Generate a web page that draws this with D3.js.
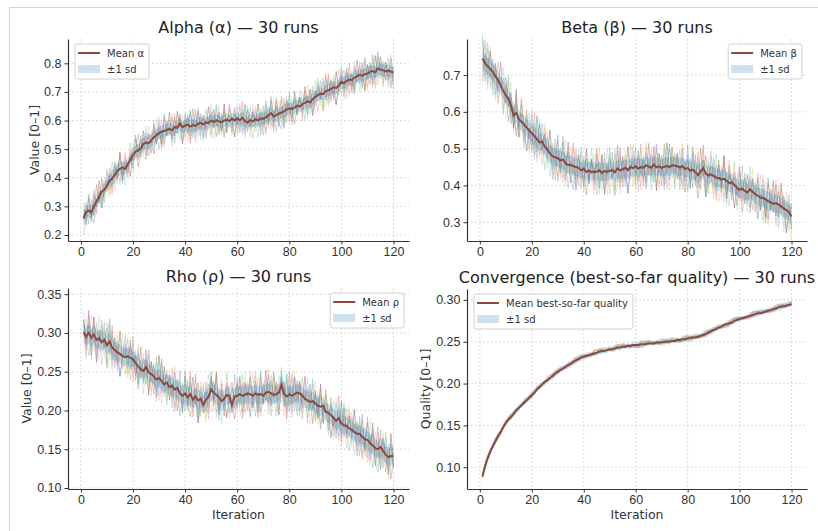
<!DOCTYPE html>
<html>
<head>
<meta charset="utf-8">
<script src="https://cdn.jsdelivr.net/npm/d3@7"></script>
<style>
  body { margin: 0; background: #fff; }
  svg { font-family: "DejaVu Sans", sans-serif; }
  .tick text { fill: #333; font-size: 12.5px; }
  .tick line { stroke: #333; }
  .domain { stroke: #333; stroke-width: 1.2; }
</style>
</head>
<body>
<svg id="chart" width="818" height="531"></svg>
<script>
// iterations 1..120 and tick labels
const iterations = d3.range(1, 121);
const xTicks = [0, 20, 40, 60, 80, 100, 120];

// mean of 30 runs
const alphaMean = [
  0.258,0.281,0.285,0.279,0.300,0.318,0.333,0.352,0.358,0.372,
  0.389,0.398,0.410,0.424,0.431,0.436,0.430,0.447,0.463,0.480,
  0.491,0.496,0.503,0.519,0.523,0.521,0.530,0.541,0.549,0.556,
  0.561,0.564,0.567,0.571,0.566,0.578,0.575,0.590,0.577,0.582,
  0.586,0.579,0.584,0.581,0.589,0.592,0.586,0.594,0.591,0.600,
  0.595,0.601,0.597,0.594,0.600,0.603,0.598,0.606,0.601,0.607,
  0.602,0.609,0.598,0.593,0.601,0.597,0.605,0.600,0.608,0.606,
  0.611,0.618,0.626,0.614,0.619,0.624,0.628,0.633,0.639,0.642,
  0.641,0.645,0.652,0.649,0.657,0.662,0.667,0.664,0.675,0.683,
  0.689,0.694,0.692,0.703,0.706,0.711,0.716,0.714,0.722,0.735,
  0.731,0.738,0.743,0.741,0.750,0.754,0.760,0.757,0.762,0.764,
  0.770,0.773,0.769,0.782,0.778,0.776,0.772,0.775,0.771,0.768
];
const betaMean = [
  0.745,0.732,0.724,0.716,0.709,0.697,0.686,0.672,0.657,0.645,
  0.636,0.617,0.590,0.597,0.580,0.573,0.566,0.557,0.549,0.542,
  0.534,0.526,0.517,0.519,0.506,0.497,0.487,0.479,0.477,0.474,
  0.468,0.470,0.461,0.455,0.456,0.452,0.450,0.448,0.441,0.445,
  0.437,0.440,0.436,0.438,0.437,0.441,0.434,0.439,0.437,0.440,
  0.442,0.436,0.446,0.441,0.444,0.448,0.442,0.450,0.447,0.452,
  0.446,0.450,0.448,0.455,0.451,0.448,0.457,0.449,0.452,0.447,
  0.451,0.453,0.450,0.455,0.454,0.452,0.449,0.452,0.445,0.447,
  0.440,0.443,0.436,0.428,0.438,0.447,0.432,0.427,0.430,0.426,
  0.421,0.420,0.416,0.418,0.413,0.406,0.409,0.401,0.394,0.388,
  0.391,0.385,0.381,0.389,0.383,0.377,0.372,0.367,0.366,0.362,
  0.357,0.354,0.350,0.352,0.348,0.343,0.337,0.334,0.327,0.316
];
const rhoMean = [
  0.301,0.295,0.300,0.294,0.298,0.291,0.293,0.288,0.291,0.284,
  0.289,0.281,0.278,0.275,0.273,0.270,0.269,0.270,0.268,0.266,
  0.261,0.257,0.253,0.251,0.256,0.249,0.247,0.244,0.240,0.242,
  0.238,0.234,0.236,0.230,0.232,0.227,0.229,0.222,0.219,0.222,
  0.217,0.221,0.214,0.218,0.213,0.215,0.207,0.214,0.218,0.227,
  0.223,0.220,0.217,0.212,0.215,0.220,0.219,0.207,0.218,0.219,
  0.221,0.219,0.220,0.222,0.221,0.219,0.222,0.220,0.221,0.219,
  0.223,0.224,0.222,0.220,0.221,0.223,0.233,0.221,0.218,0.221,
  0.219,0.221,0.223,0.222,0.219,0.215,0.213,0.211,0.212,0.209,
  0.206,0.205,0.206,0.198,0.197,0.194,0.190,0.187,0.190,0.183,
  0.181,0.180,0.177,0.175,0.172,0.170,0.170,0.166,0.163,0.162,
  0.158,0.155,0.151,0.150,0.153,0.148,0.143,0.140,0.141,0.142
];
const qualityMean = [
  0.089,0.101,0.111,0.119,0.125,0.131,0.137,0.142,0.148,0.153,
  0.157,0.160,0.164,0.168,0.171,0.174,0.177,0.180,0.183,0.186,
  0.189,0.193,0.196,0.199,0.202,0.204,0.207,0.209,0.212,0.214,
  0.216,0.218,0.220,0.222,0.224,0.226,0.228,0.229,0.231,0.232,
  0.233,0.234,0.235,0.236,0.237,0.238,0.239,0.239,0.240,0.241,
  0.241,0.242,0.243,0.243,0.244,0.244,0.245,0.245,0.246,0.246,
  0.246,0.247,0.247,0.247,0.248,0.248,0.248,0.249,0.249,0.249,
  0.250,0.250,0.250,0.251,0.251,0.252,0.252,0.253,0.253,0.254,
  0.254,0.255,0.255,0.256,0.257,0.258,0.259,0.261,0.262,0.264,
  0.265,0.267,0.268,0.270,0.271,0.272,0.273,0.275,0.276,0.277,
  0.278,0.279,0.280,0.281,0.282,0.283,0.284,0.284,0.285,0.286,
  0.287,0.288,0.289,0.290,0.291,0.292,0.292,0.293,0.294,0.295
];

// approximate standard deviation and spread of single runs
const alphaSd = 0.022, betaSd = 0.025, rhoSd = 0.012, qualitySd = 0.0025;
const alphaSpread = 0.058, betaSpread = 0.063, rhoSpread = 0.029, qualitySpread = 0.004;

// hand-estimated run deviations (digit 0..9 = -1..+1 of spread)
const runNoise = [
  "4718293056 6283917405 3928174650 5173829406 2849371560 7362918405 4192837560 6381920475 2937461805 5819273046 3746192805 6192837450",
  "5293817460 3817290564 7293846150 4829173605 6174829305 3928461705 5827391604 4719283650 6283947150 3849271605 7192836450 4827391560",
  "6384920175 2947183605 5183729460 7284619305 3819274650 6293847105 4827193560 5738291640 2847391605 6173829450 4928371605 3819472650",
  "3829471605 6192738450 4738291605 5829173460 7193846250 4728391605 3847291650 6928371405 5183927460 4729381605 6837291450 5192837460",
  "7283946150 4837291605 6294817350 3729481605 5837192460 6284739150 4937281605 5283917460 7392846150 3847192605 5928371460 6183729450",
  "2938471605 5729384160 4618293750 6837291405 3928174650 7182934560 5293847160 4829371605 6738291450 3928471650 5817392460 4729381650",
  "5184729360 6829371450 3749281605 5938271460 4827193650 6392847150 3817294605 7283941650 4928371605 5738192460 6291837450 3849271605",
  "4927381650 3819274605 6283917450 4738291650 5829371460 3917284605 6482913750 5293817460 3748291605 7192384650 4829371605 5938271460"
];
// best-so-far runs: sawtooth deviations (flat stretches, then a jump)
const stepNoise = [
  "7654398765 4321076549 8765432987 6543210987 6549876543 2198765432 1098765439 8765432198 7654329876 5432109876 5432987654 3219876543",
  "5439876543 2109876598 7654321987 6543298765 4321098765 4329876543 2198765498 7654321098 7654329876 5432198765 4321098765 4329876543",
  "8765987654 3298765432 1987654398 7654321098 7654321098 7654398765 4321987654 3210987654 3219876543 2198765498 7654321987 6543219876",
  "6549876543 2987654321 0987654987 6543219876 5432198765 4321098765 4398765432 1987654321 9876543298 7654321098 7654398765 4321987654"
];

const runColors = ["#1f77b4","#ff7f0e","#2ca02c","#d62728","#9467bd","#e377c2","#17becf","#bcbd22"];
const xDomain = [-4.95, 125.95];

const panels = [
  { title: "Alpha (α) — 30 runs", mean: alphaMean, sd: alphaSd, spread: alphaSpread, noise: runNoise, shift: 0,
    legend: "Mean α", legendSide: "left", yLabel: "Value [0–1]", labelOff: 33,
    yTicks: [0.2,0.3,0.4,0.5,0.6,0.7,0.8], fmt: d3.format(".1f"), yDomain: [0.179, 0.885],
    box: { x: 68, y: 39, w: 341, h: 202 }, xLabel: false },
  { title: "Beta (β) — 30 runs", mean: betaMean, sd: betaSd, spread: betaSpread, noise: runNoise, shift: 41,
    legend: "Mean β", legendSide: "right", yLabel: null,
    yTicks: [0.3,0.4,0.5,0.6,0.7], fmt: d3.format(".1f"), yDomain: [0.249, 0.798],
    box: { x: 467, y: 39, w: 340, h: 202 }, xLabel: false },
  { title: "Rho (ρ) — 30 runs", mean: rhoMean, sd: rhoSd, spread: rhoSpread, noise: runNoise, shift: 83,
    legend: "Mean ρ", legendSide: "right", yLabel: "Value [0–1]", labelOff: 41,
    yTicks: [0.10,0.15,0.20,0.25,0.30,0.35], fmt: d3.format(".2f"), yDomain: [0.0987, 0.358],
    box: { x: 68, y: 288, w: 341, h: 201 }, xLabel: true },
  { title: "Convergence (best-so-far quality) — 30 runs", mean: qualityMean, sd: qualitySd, spread: qualitySpread, noise: stepNoise, shift: 0,
    legend: "Mean best-so-far quality", legendSide: "left", yLabel: "Quality [0–1]", labelOff: 41,
    yTicks: [0.10,0.15,0.20,0.25,0.30], fmt: d3.format(".2f"), yDomain: [0.074, 0.313],
    box: { x: 467, y: 289, w: 340, h: 200 }, xLabel: true }
];

const svg = d3.select("#chart");

// light frame of the screenshot
svg.append("rect")
  .attr("x", 9.5).attr("y", 7.5)
  .attr("width", 830).attr("height", 540)
  .attr("fill", "none").attr("stroke", "#d4d4d4");

function digits(s) {
  return s.replace(/ /g, "").split("").map(c => (+c - 4.5) / 4.5);
}

panels.forEach(p => {
  const { x: left, y: top, w, h } = p.box;
  const g = svg.append("g").attr("transform", `translate(${left},${top})`);
  const x = d3.scaleLinear().domain(xDomain).range([0, w]);
  const y = d3.scaleLinear().domain(p.yDomain).range([h, 0]);

  // dotted grid
  g.append("g").selectAll("line").data(xTicks).join("line")
    .attr("x1", d => x(d)).attr("x2", d => x(d))
    .attr("y1", 0).attr("y2", h)
    .attr("stroke", "#d0d0d0").attr("stroke-width", 0.8).attr("stroke-dasharray", "2,2");
  g.append("g").selectAll("line").data(p.yTicks).join("line")
    .attr("x1", 0).attr("x2", w)
    .attr("y1", d => y(d)).attr("y2", d => y(d))
    .attr("stroke", "#d0d0d0").attr("stroke-width", 0.8).attr("stroke-dasharray", "2,2");

  // individual runs
  const line = d3.line().x((d, i) => x(iterations[i])).y(d => y(d));
  const runs = [];
  p.noise.forEach((s, k) => {
    const dv = digits(s);
    const off = p.shift + k * 17;
    runs.push(p.mean.map((m, i) => m + p.spread * dv[(i + off) % dv.length]));
    if (p.noise.length < 8) {
      runs.push(p.mean.map((m, i) => m + p.spread * dv[(i + off + 53) % dv.length]));
    }
  });
  g.append("g").selectAll("path").data(runs).join("path")
    .attr("d", line)
    .attr("fill", "none")
    .attr("stroke", (d, k) => runColors[k % runColors.length])
    .attr("stroke-width", 0.8)
    .attr("stroke-opacity", 0.3);

  // ±1 sd band
  const area = d3.area()
    .x((d, i) => x(iterations[i]))
    .y0(d => y(d - p.sd))
    .y1(d => y(d + p.sd));
  g.append("path").datum(p.mean)
    .attr("d", area)
    .attr("fill", "#1f77b4").attr("fill-opacity", 0.22);

  // mean line
  g.append("path").datum(p.mean)
    .attr("d", line)
    .attr("fill", "none")
    .attr("stroke", "#8c4a3e")
    .attr("stroke-width", 2);

  // axes
  g.append("g").attr("transform", `translate(0,${h})`)
    .call(d3.axisBottom(x).tickValues(xTicks).tickSize(3.5).tickSizeOuter(0).tickPadding(3));
  g.append("g")
    .call(d3.axisLeft(y).tickValues(p.yTicks).tickFormat(p.fmt).tickSize(3.5).tickSizeOuter(0).tickPadding(3));

  // title
  g.append("text")
    .attr("x", w / 2).attr("y", -6)
    .attr("text-anchor", "middle")
    .attr("font-size", 16).attr("fill", "#222")
    .text(p.title);

  if (p.yLabel) {
    g.append("text")
      .attr("transform", `translate(${-p.labelOff},${h / 2}) rotate(-90)`)
      .attr("text-anchor", "middle").attr("dy", "0.35em")
      .attr("font-size", 12.5).attr("fill", "#333")
      .text(p.yLabel);
  }
  if (p.xLabel) {
    g.append("text")
      .attr("x", w / 2).attr("y", h + 30)
      .attr("text-anchor", "middle")
      .attr("font-size", 12.5).attr("fill", "#333")
      .text("Iteration");
  }

  // legend
  const lg = g.append("g");
  const box = lg.append("rect")
    .attr("fill", "#fff").attr("fill-opacity", 0.85)
    .attr("stroke", "#d0d0d0").attr("rx", 2.5);
  const t1 = lg.append("text").attr("x", 32).attr("y", 12.5)
    .attr("font-size", 10).attr("fill", "#333").text(p.legend);
  lg.append("text").attr("x", 32).attr("y", 28.5)
    .attr("font-size", 10).attr("fill", "#333").text("±1 sd");
  lg.append("line").attr("x1", 3).attr("x2", 25).attr("y1", 9).attr("y2", 9)
    .attr("stroke", "#8c4a3e").attr("stroke-width", 2);
  lg.append("rect").attr("x", 3).attr("y", 21).attr("width", 22).attr("height", 8)
    .attr("fill", "#1f77b4").attr("fill-opacity", 0.22);
  const bw = 32 + t1.node().getComputedTextLength() + 5;
  box.attr("width", bw).attr("height", 35);
  const lx = p.legendSide === "left" ? 7 : w - 5 - bw;
  lg.attr("transform", `translate(${lx},5)`);
});
</script>
</body>
</html>
